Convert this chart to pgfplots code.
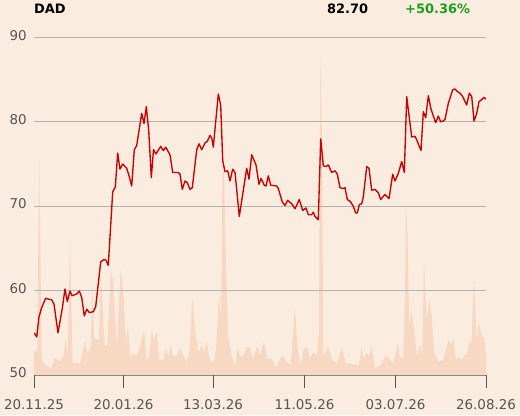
\documentclass[border=0pt]{standalone}
\usepackage{pgfplots}
\pgfplotsset{compat=1.18}
\usepackage{fontspec}
\setmainfont{DejaVu Sans}
\definecolor{bg}{HTML}{FBECE0}
\definecolor{vol}{HTML}{F6D8C3}
\definecolor{pr}{HTML}{CC0000}
\definecolor{gridc}{HTML}{B3B3B3}
\definecolor{tickc}{HTML}{555555}
\definecolor{grn}{HTML}{1A9E1A}
\begin{document}
\begin{tikzpicture}[x=1bp,y=1bp]
\fill[bg] (0,0) rectangle (520,415);
\useasboundingbox (0,0) rectangle (520,415);
\begin{axis}[
  at={(34bp,40bp)}, anchor=south west,
  scale only axis, width=452bp, height=337.5bp,
  xmin=34, xmax=486, ymin=50, ymax=90,
  axis lines=none,
  clip=true,
  /pgf/number format/assume math mode=true,
  ticklabel style={font=\fontsize{13.5}{16}\selectfont, text=tickc},
  xtick=\empty, ytick=\empty,
]
% volume
\addplot[fill=vol, draw=none] coordinates {
(34,50)(34,52.8)(36.5,52.8)(37.3,53.5)(39.3,75.8)(41.5,53)(42.7,51.6)(46.7,51.0)(51.7,50.8)(54.3,52.0)(60,51.6)(63.3,52.3)(65.7,54.2)(67.7,52.6)(70,65.8)(72.7,51.4)(76.7,51.5)(80,51.3)(83.3,53.0)(85,54.1)(87.3,52.5)(90.7,53.3)(92.3,60.7)(94.3,54.5)(96.7,54.2)(98.7,54.1)(101,62.4)(103.3,56.0)(105,53.4)(107.3,53.6)(111,62.4)(113.3,61.0)(116.7,53.4)(120.7,62.5)(123.3,59.7)(126,54.0)(128,55.6)(130.7,51.8)(132.7,52.6)(136.7,52.2)(140,53.4)(144,55.4)(146.7,51.7)(149.3,52.2)(151.7,55.3)(154,54.2)(156.7,55.1)(159.3,51.8)(163.3,51.8)(165.7,53.2)(168.3,52.2)(170.7,53.6)(173.3,52.2)(176.7,52.3)(180.7,53.2)(184,52.2)(186.7,51.5)(189.3,52.7)(192.3,59.2)(195,55.5)(198.3,52.7)(202,53.5)(204,52.7)(206.7,54.0)(209.3,52.2)(211.3,51.5)(214,51.7)(216,53.0)(219,59.7)(221,56.5)(222.5,74.3)(224,74.0)(226,63)(228.3,54.5)(231.7,52.2)(235,51.0)(237.7,53.2)(240,52.2)(243.3,52.2)(246.7,53.4)(250,53.2)(253.3,51.8)(256.7,53.4)(260,52.4)(264,53.9)(267.3,51.9)(271.7,51.9)(276,50.9)(279,51.7)(282.7,52.3)(286.7,51.5)(290.7,51.3)(295,58.1)(297.3,53.4)(300.7,51.1)(303.3,53.0)(306.7,53.4)(310,52.0)(313.3,52.7)(316.7,52.3)(319,55)(320.3,87.7)(322,78)(323.3,52.2)(328.3,53.4)(331.7,51.9)(336.7,51.3)(341.7,53.2)(346,51.3)(350,51.4)(353.3,51.3)(356.7,51.2)(359,51.3)(361.7,53.4)(364,51.9)(366.7,52.7)(369,52.2)(371.7,53.4)(375,50.8)(380,51.1)(386,52.3)(389.3,51.9)(393.3,51.3)(397.7,53.8)(400,52.0)(403.3,52.2)(405,60)(406,69.9)(407.5,67)(409,56)(411.7,57.7)(414,55.3)(417.3,52.2)(420,53.7)(422.3,52.5)(424,63.6)(426.7,56.5)(429.3,59.0)(431.7,57)(434,52.6)(438.3,51.6)(443.3,51.8)(446,53.0)(448.3,54.2)(450.7,53.6)(453.3,54.3)(456,51.8)(459,52.1)(461.7,51.8)(464,52.3)(466.7,52.3)(469.3,54.1)(471.3,53.6)(474,61.8)(476.7,54.3)(479,56.2)(481.7,54.6)(484,54.4)(486,52.6)(486,50)
} \closedcycle;
% grid
\addplot[gridc, line width=0.8bp, forget plot] coordinates {(34,60)(486,60)};
\addplot[gridc, line width=0.8bp, forget plot] coordinates {(34,70)(486,70)};
\addplot[gridc, line width=0.8bp, forget plot] coordinates {(34,80)(486,80)};
\addplot[gridc, line width=0.8bp, forget plot] coordinates {(34,90)(486,90)};
% price
\addplot[pr, line width=1.35bp, line join=round] coordinates {
(34.3,55.0)(36.7,54.5)(39,56.9)(41.7,58.0)(45.7,59.1)(48.3,59.0)(51.7,58.9)(54,58.4)(58,55.0)(62.3,57.9)(65,60.2)(67.3,58.7)(70,59.95)(72,59.4)(76.7,59.6)(79.3,59.95)(81.7,59.2)(84.3,57.0)(86.7,57.8)(89.3,57.4)(93.3,57.5)(95.7,58.1)(100.7,63.4)(104,63.7)(106,63.6)(108.3,63.0)(112.7,71.7)(115.3,72.3)(117.7,76.3)(120,74.4)(122.7,75.0)(126.7,74.5)(129.3,73.5)(131.7,72.4)(134.3,76.7)(136.7,77.2)(141.7,81.0)(144,79.8)(146.3,81.8)(148.7,79.0)(151.3,73.4)(153.5,76.7)(156,76.2)(160.7,77.1)(163.3,76.6)(165.7,77.0)(170,76.1)(172.7,74.0)(178.3,74.0)(180,73.8)(182.3,72.0)(185,73.0)(187.3,72.8)(190,72.0)(192.3,72.2)(196.7,76.7)(199,77.4)(201.7,76.7)(205,77.5)(207.3,77.7)(210,78.4)(211.7,78.1)(213.3,77.0)(218.3,83.3)(220.7,82.0)(222.7,75.4)(225,74.1)(227.7,74.2)(230,73.0)(232.7,74.4)(235,74.0)(239.3,68.8)(243.3,71.9)(246.7,74.5)(249,73.2)(251.7,76.1)(256,74.9)(259,72.6)(261,73.3)(264.3,72.5)(266,72.4)(268.3,73.6)(270.7,72.5)(276.7,72.4)(278.3,72.1)(282.3,70.5)(285,70.1)(287.7,70.7)(291.7,70.3)(295,69.7)(299.3,70.8)(302.7,69.5)(306,69.8)(308.3,69.0)(311.7,69.0)(313.3,69.3)(315,68.8)(318.3,68.4)(320.7,78.0)(323.3,74.8)(326,74.7)(328.3,74.9)(331.7,74.0)(335,74.2)(337.3,73.8)(340,72.2)(342.7,72.1)(345,72.2)(347.3,70.8)(350,70.6)(353.3,70.0)(355.7,69.2)(357.3,69.2)(359.3,70.2)(361.7,70.3)(363.3,71.1)(366.7,74.7)(369,74.5)(371.7,71.9)(375,72.0)(378.3,71.6)(380.7,70.8)(385,71.4)(389,70.9)(392.7,73.8)(395,73.0)(398.3,73.9)(401.7,75.3)(404.3,74.0)(406.7,83.0)(411.7,78.2)(415,78.3)(417.3,77.7)(421,76.6)(423.3,81.2)(425.7,80.5)(428.3,83.1)(431,81.5)(435.7,79.9)(438.3,80.7)(440.7,80.0)(443.3,80.1)(445,80.3)(448.3,82.2)(452.7,83.8)(455,83.9)(457.3,83.6)(460,83.4)(462.7,83.0)(466.7,82.0)(469.3,83.4)(471.7,83.0)(474,80.1)(476.7,81.0)(479,82.4)(482.3,82.7)(484,82.9)(486,82.7)
};
\end{axis}
% axis line and ticks
\draw[tickc!70, line width=0.8bp] (34,40) -- (486,40);
\foreach \x in {34,123.5,213,304.5,395.5,486} \draw[tickc, line width=0.9bp] (\x,40) -- (\x,27);
\foreach \x/\l in {34/20.11.25,123.5/20.01.26,213/13.03.26,304.5/11.05.26,395.5/03.07.26,486/26.08.26}
  \node[anchor=base, inner sep=0pt, text=tickc, font=\fontsize{13.5}{16}\selectfont] at (\x,6) {\l};
\foreach \y/\l in {40/50,124.4/60,208.8/70,293.1/80,377.5/90}
  \node[anchor=mid east, inner sep=0pt, text=tickc, font=\fontsize{13.5}{16}\selectfont] at (27,\y) {\l};
% header
\node[anchor=base west, inner sep=0pt, font=\fontsize{13}{16}\selectfont\bfseries] at (34,401) {DAD};
\node[anchor=base west, inner sep=0pt, font=\fontsize{13}{16}\selectfont\bfseries] at (327,401) {82.70};
\node[anchor=base west, inner sep=0pt, text=grn, font=\fontsize{13}{16}\selectfont\bfseries] at (405,401) {+50.36\%};
\end{tikzpicture}
\end{document}
